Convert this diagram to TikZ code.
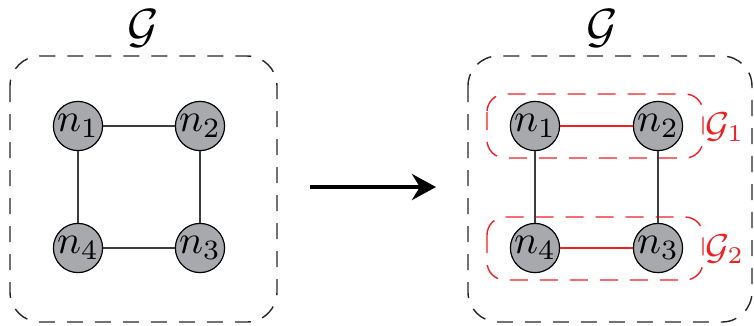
\documentclass[tikz,border=0pt]{standalone}
\usetikzlibrary{arrows.meta}
\definecolor{nodegray}{RGB}{168,169,173}
\definecolor{myred}{RGB}{237,32,36}
\definecolor{edgegray}{RGB}{60,60,60}
\begin{document}
\begin{tikzpicture}[x=0.25pt,y=-0.25pt,
  vert/.style={circle,draw=black,line width=0.3pt,fill=nodegray,minimum size=12.3pt,inner sep=0pt,font=\normalsize},
  edge/.style={draw=edgegray,line width=0.35pt},
  redge/.style={draw=myred,line width=0.35pt},
  bigbox/.style={draw=black!85,line width=0.35pt,dash pattern=on 4pt off 3pt,rounded corners=7.5pt},
  subbox/.style={draw=myred,line width=0.35pt,dash pattern=on 4.5pt off 3pt,rounded corners=4.5pt},
  title/.style={font=\large,inner sep=0pt},
  sublabel/.style={font=\small,inner sep=0pt,text=myred}]
\useasboundingbox (0,0) rectangle (754,325);
% left graph
\draw[bigbox] (10,56) rectangle (277,322);
\node[title] (gl) at (143,28) {$\mathcal{G}$};
\node[vert] (a1) at (78,126) {$n_1$};
\node[vert] (a2) at (200,126) {$n_2$};
\node[vert] (a3) at (200,248) {$n_3$};
\node[vert] (a4) at (78,248) {$n_4$};
\draw[edge] (a1) -- (a2);
\draw[edge] (a2) -- (a3);
\draw[edge] (a3) -- (a4);
\draw[edge] (a4) -- (a1);
% arrow
\coordinate (as) at (310,187);
\coordinate (ae) at (436,187);
\draw[line width=1pt,-{Stealth[length=6pt,width=6.5pt]}] (as) -- (ae);
% right graph
\draw[bigbox] (468,56) rectangle (752,322);
\node[title] (gr) at (602,28) {$\mathcal{G}$};
\draw[subbox] (487,94) rectangle (703,158);
\draw[subbox] (487,217) rectangle (703,280);
\node[sublabel] (g1) at (725,127) {$\mathcal{G}_1$};
\node[sublabel] (g2) at (725,249) {$\mathcal{G}_2$};
\node[vert] (b1) at (535,126) {$n_1$};
\node[vert] (b2) at (658,126) {$n_2$};
\node[vert] (b3) at (658,248) {$n_3$};
\node[vert] (b4) at (535,248) {$n_4$};
\draw[redge] (b1) -- (b2);
\draw[edge] (b2) -- (b3);
\draw[redge] (b3) -- (b4);
\draw[edge] (b4) -- (b1);
\end{tikzpicture}
\end{document}
